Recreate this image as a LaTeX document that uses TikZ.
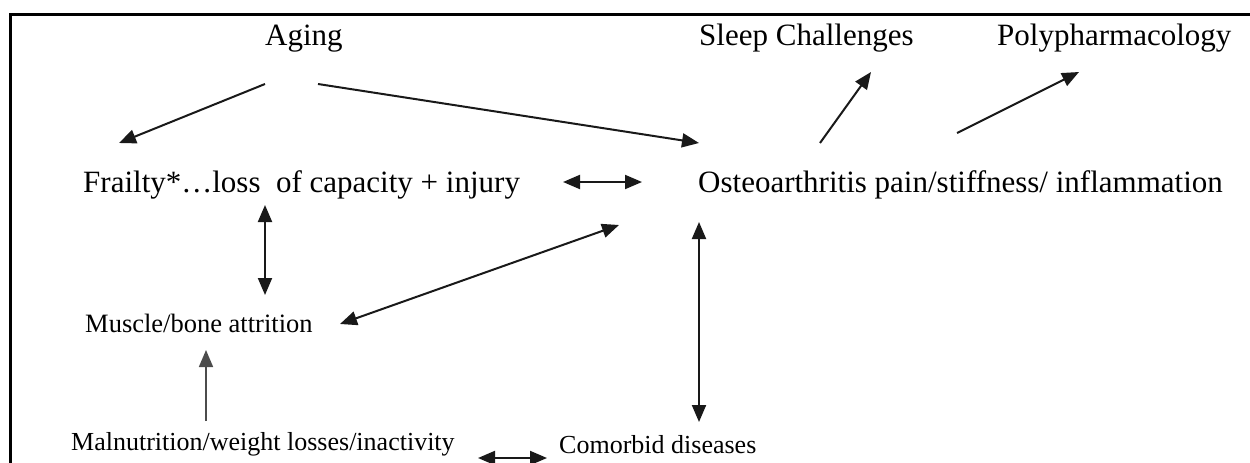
\documentclass[tikz,border=0pt]{standalone}
\usepackage{fontspec}
\setmainfont{Liberation Serif}
\usetikzlibrary{arrows.meta}
\begin{document}
\begin{tikzpicture}[x=1pt,y=-1pt,
  big/.style={inner sep=0pt,anchor=base west,font=\fontsize{31}{36}\selectfont},
  small/.style={inner sep=0pt,anchor=base west,font=\fontsize{26}{30}\selectfont},
  tip/.style={Triangle[length=17pt,width=14pt]},
  conn/.style={line width=2pt,draw=black!90,-{Triangle[length=17pt,width=14pt]}},
  both/.style={line width=2pt,draw=black!90,{Triangle[length=17pt,width=14pt]}-{Triangle[length=17pt,width=14pt]}}]
\useasboundingbox (0,0) rectangle (1250,463);
\draw[line width=3pt] (10,463) -- (10,14) -- (1250,14);
% nodes
\node[big] (aging) at (265,45) {Aging};
\node[big] (sleep) at (699,45) {Sleep Challenges};
\node[big] (poly) at (997,45) {Polypharmacology};
\node[big] (frailty) at (83,192) {Frailty*\ldots loss\ \ of capacity + injury};
\node[big] (osteo) at (698,192) {Osteoarthritis pain/stiffness/ inflammation};
\node[small,font=\fontsize{26.5}{30}\selectfont] (muscle) at (85,332) {Muscle/bone attrition};
\node[small] (malnu) at (71,450) {Malnutrition/weight losses/inactivity};
\node[small] (comorbid) at (559,453) {Comorbid diseases};
% connector end points
\coordinate (a1) at (265,84);  \coordinate (f1) at (119,143);
\coordinate (a2) at (318,84);  \coordinate (o1) at (699,143);
\coordinate (o2) at (820,143); \coordinate (s1) at (871,72);
\coordinate (o3) at (957,133); \coordinate (p1) at (1079,72);
\coordinate (f2) at (563,182); \coordinate (o4) at (642,182);
\coordinate (f3) at (265,205); \coordinate (m1) at (265,295);
\coordinate (m2) at (340,324); \coordinate (o5) at (619,225);
\coordinate (o6) at (699,222); \coordinate (c1) at (699,422);
\coordinate (n1) at (206,421); \coordinate (m3) at (206,350);
\coordinate (n2) at (478,458); \coordinate (c2) at (547,458);
% connectors
\draw[conn] (a1) -- (f1);
\draw[conn] (a2) -- (o1);
\draw[conn] (o2) -- (s1);
\draw[conn] (o3) -- (p1);
\draw[both] (f2) -- (o4);
\draw[both] (f3) -- (m1);
\draw[both] (m2) -- (o5);
\draw[both] (o6) -- (c1);
\draw[conn,line width=1.6pt,draw=black!70] (n1) -- (m3);
\draw[both] (n2) -- (c2);
\end{tikzpicture}
\end{document}
